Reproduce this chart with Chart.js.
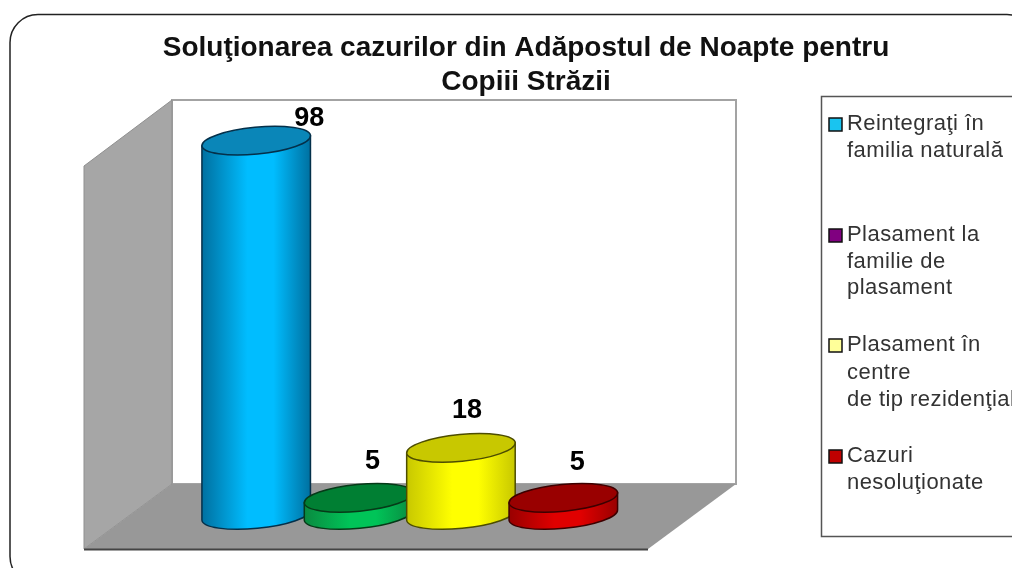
<!DOCTYPE html>
<html><head><meta charset="utf-8">
<style>html,body{margin:0;padding:0;background:#fff}#w{width:1012px;height:568px}</style>
<script src="https://cdn.jsdelivr.net/npm/chart.js@4"></script></head>
<body><div id="w"><canvas id="c" width="1012" height="568"></canvas></div>
<script>
const titleLines = ['Soluţionarea cazurilor din Adăpostul de Noapte pentru', 'Copiii Străzii'];
const categories = ['Reintegraţi în familia naturală', 'Plasament la familie de plasament', 'Plasament în centre de tip rezidenţial', 'Cazuri nesoluţionate'];
const values = [98, 5, 18, 5];
const legendLines = [['Reintegraţi în', 'familia naturală'], ['Plasament la', 'familie de', 'plasament'], ['Plasament în', 'centre', 'de tip rezidenţial'], ['Cazuri', 'nesoluţionate']];
const legendColors = ['#19c4f0', '#800080', '#ffff99', '#c00000'];
const sideEdge = ['#0070a0', '#0a8a40', '#c8c800', '#990000'];
const sideMid = ['#00bdff', '#00c458', '#ffff00', '#e00000'];
const topFill = ['#0a86b8', '#007f33', '#c8c800', '#990000'];
const outline = ['#04304a', '#063a18', '#4d4d00', '#3d0000'];
const labelShift = [[53, -22], [14, -36], [6, -37], [14, -35]];
const legendLineY = [[124, 151], [235, 262, 288], [345, 373, 400], [456, 483]];

const frame = {
  id: 'frame',
  beforeDraw(chart) {
    const g = chart.ctx;
    g.save();
    g.fillStyle = '#fff'; g.fillRect(0, 0, 1012, 568);
    g.beginPath(); g.roundRect(10, 14.5, 1025, 570, 28);
    g.strokeStyle = '#222'; g.lineWidth = 1.5; g.stroke();
    // back wall
    g.strokeStyle = '#a3a3a3'; g.lineWidth = 2;
    g.strokeRect(172, 100, 564, 384);
    // left wall
    g.beginPath(); g.moveTo(84, 166); g.lineTo(172, 100); g.lineTo(172, 484); g.lineTo(84, 549); g.closePath();
    g.fillStyle = '#a6a6a6'; g.fill();
    g.strokeStyle = '#8f8f8f'; g.lineWidth = 1; g.stroke();
    // floor
    g.beginPath(); g.moveTo(172, 484); g.lineTo(736, 484); g.lineTo(648, 549); g.lineTo(84, 549); g.closePath();
    g.fillStyle = '#989898'; g.fill();
    g.strokeStyle = '#444'; g.lineWidth = 2;
    g.beginPath(); g.moveTo(84, 549.5); g.lineTo(648, 549.5); g.stroke();
    // legend box
    g.strokeStyle = '#555'; g.lineWidth = 1.5;
    g.strokeRect(821.5, 96.5, 300, 440);
    g.font = '22px "Liberation Sans"'; g.letterSpacing = '0.45px'; g.textBaseline = 'middle'; g.textAlign = 'left';
    legendLines.forEach((lines, i) => {
      g.fillStyle = '#333';
      lines.forEach((t, j) => g.fillText(t, 847, legendLineY[i][j]));
      g.fillStyle = legendColors[i]; g.strokeStyle = '#111'; g.lineWidth = 1.5;
      g.fillRect(829, legendLineY[i][0] - 6, 13, 13);
      g.strokeRect(829, legendLineY[i][0] - 6, 13, 13);
    });
    g.letterSpacing = '0px';
    g.restore();
  }
};

const cylinders = {
  id: 'cylinders',
  afterLayout(chart) {
    const t = chart.titleBlock;
    t.left = 0; t.right = 1052; t.width = 1052;
  },
  beforeDatasetDraw(chart, args) {
    const g = chart.ctx, base = chart.scales.y.getPixelForValue(0) - 2, rot = -5.5 * Math.PI / 180, b = 13.4;
    args.meta.data.forEach((bar, i) => {
      const cx = bar.x, a = bar.width / 2, top = bar.y;
      const ex = a * Math.cos(rot), ey = a * Math.sin(rot);
      const grad = g.createLinearGradient(cx - ex, 0, cx + ex, 0);
      grad.addColorStop(0, sideEdge[i]); grad.addColorStop(0.42, sideMid[i]);
      grad.addColorStop(0.66, sideMid[i]); grad.addColorStop(1, sideEdge[i]);
      g.save();
      g.beginPath();
      g.moveTo(cx - ex, top - ey);
      g.lineTo(cx - ex, base - ey);
      g.ellipse(cx, base, a, b, rot, Math.PI, 0, true);
      g.lineTo(cx + ex, top + ey);
      g.closePath();
      g.fillStyle = grad; g.fill();
      g.strokeStyle = outline[i]; g.lineWidth = 1.5; g.stroke();
      g.beginPath(); g.ellipse(cx, top, a, b, rot, 0, Math.PI * 2);
      g.fillStyle = topFill[i]; g.fill(); g.stroke();
      g.restore();
    });
    return false;
  },
  afterDatasetsDraw(chart) {
    const g = chart.ctx;
    g.save();
    g.font = 'bold 27px "Liberation Sans"'; g.fillStyle = '#000';
    g.textAlign = 'center'; g.textBaseline = 'middle';
    chart.getDatasetMeta(0).data.forEach((bar, i) => {
      g.fillText(String(values[i]), bar.x + labelShift[i][0], bar.y + labelShift[i][1]);
    });
    g.restore();
  }
};

new Chart(document.getElementById('c'), {
  type: 'bar',
  data: { labels: categories, datasets: [{ data: values, backgroundColor: sideMid, barPercentage: 1.065, categoryPercentage: 1 }] },
  options: {
    responsive: false, animation: false, devicePixelRatio: 1,
    layout: { padding: { left: 205, right: 397.5, top: 31, bottom: 51 } },
    scales: {
      x: { display: false },
      y: { display: false, min: 0, max: 108.6 }
    },
    plugins: {
      legend: { display: false }, tooltip: { enabled: false },
      title: { display: true, text: titleLines, color: '#111', padding: { top: 0, bottom: 1 },
        font: { family: '"Liberation Sans"', size: 28, weight: 'bold', lineHeight: 34 / 28 } }
    }
  },
  plugins: [frame, cylinders]
});
</script></body></html>
